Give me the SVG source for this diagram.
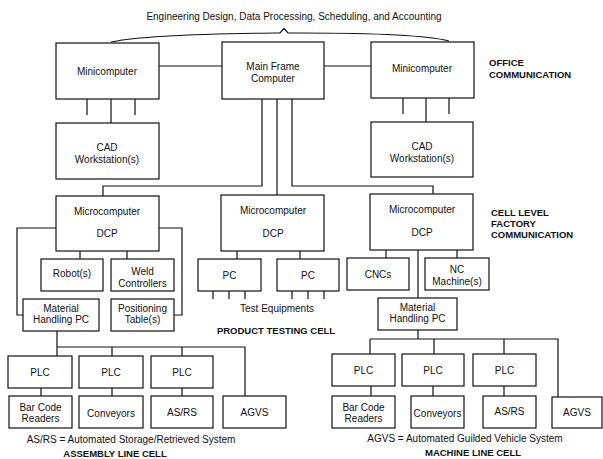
<svg xmlns="http://www.w3.org/2000/svg" width="603" height="459" viewBox="0 0 603 459">
<style>
  .box { fill: #fff; stroke: #111; stroke-width: 1.2; }
  .t { font-family: "Liberation Sans", Arial, sans-serif; font-size: 10px; fill: #111; text-anchor: middle; }
  .b { font-family: "Liberation Sans", Arial, sans-serif; font-size: 9.5px; font-weight: bold; fill: #111; }
  .bc { text-anchor: middle; }
  .ln { fill: none; stroke: #111; stroke-width: 1.2; }
</style>
<rect width="603" height="459" fill="#fff"/>

<g id="connectors">
  <!-- brace -->
  <path class="ln" d="M111,42 C135,37 180,34 275,33 L280,33 L284,28.5 L288,33 L300,33 C390,33 430,36 449,41"/>
  <!-- office links -->
  <path class="ln" d="M159,66 H222 M324,66 H371"/>
  <!-- mini to CAD left -->
  <path class="ln" d="M87,99 V115 M111,99 V123 M135,99 V115"/>
  <!-- mini to CAD right -->
  <path class="ln" d="M403,98 V114 M426,98 V122 M449,98 V114"/>
  <!-- mainframe down -->
  <path class="ln" d="M262,99 V186 H103 V196 M277,99 V195 M292,99 V186 H433 V194"/>
  <!-- left micro -->
  <path class="ln" d="M56,228 H17 V315 H23 M159,228 H182 V315 H174 M80,251 V259 M127,251 V259"/>
  <!-- left MH PC to PLCs -->
  <path class="ln" d="M57,331 V356 M57,347 H245 V396 M112,347 V356 M182,347 V356"/>
  <path class="ln" d="M41,388 V396 M112,388 V396 M182,388 V396"/>
  <!-- middle micro -->
  <path class="ln" d="M237,251 V259 M300,251 V259"/>
  <path class="ln" d="M213,291 V299 M229,291 V299 M245,291 V299 M292,291 V299 M308,291 V299 M324,291 V299"/>
  <!-- right micro -->
  <path class="ln" d="M386,250 V258 M457,250 V258 M418,250 V298"/>
  <!-- right MH PC to PLCs -->
  <path class="ln" d="M418,330 V339 M370,339 H558 V397 M370,339 V354 M434,339 V354 M504,339 V354"/>
  <path class="ln" d="M371,386 V396 M433,386 V396 M504,386 V396"/>
</g>

<text class="t" x="294" y="20">Engineering Design, Data Processing, Scheduling, and Accounting</text>

<g id="mini-left"><rect class="box" x="56" y="43" width="103" height="56"/><text class="t" x="107" y="74.5">Minicomputer</text></g>
<g id="mainframe"><rect class="box" x="222" y="42" width="102" height="57"/><text class="t" x="273" y="69.5">Main Frame</text><text class="t" x="273" y="81.5">Computer</text></g>
<g id="mini-right"><rect class="box" x="371" y="42" width="103" height="56"/><text class="t" x="422" y="72">Minicomputer</text></g>

<g id="cad-left"><rect class="box" x="56" y="123" width="103" height="56"/><text class="t" x="107" y="150.5">CAD</text><text class="t" x="107" y="162.5">Workstation(s)</text></g>
<g id="cad-right"><rect class="box" x="371" y="122" width="102" height="55"/><text class="t" x="422" y="150">CAD</text><text class="t" x="422" y="162">Workstation(s)</text></g>

<g id="office-label"><text class="b" x="489" y="65.5">OFFICE</text><text class="b" x="489" y="77.5">COMMUNICATION</text></g>
<g id="cell-label"><text class="b" x="491" y="215.5">CELL LEVEL</text><text class="b" x="491" y="226.5">FACTORY</text><text class="b" x="491" y="237.5">COMMUNICATION</text></g>

<g id="micro-left"><rect class="box" x="56" y="196" width="103" height="55"/><text class="t" x="107" y="214.5">Microcomputer</text><text class="t" x="107" y="236.5">DCP</text></g>
<g id="micro-mid"><rect class="box" x="221" y="195" width="103" height="56"/><text class="t" x="273" y="213.5">Microcomputer</text><text class="t" x="273" y="236.5">DCP</text></g>
<g id="micro-right"><rect class="box" x="370" y="194" width="103" height="56"/><text class="t" x="422" y="212.5">Microcomputer</text><text class="t" x="422" y="235.5">DCP</text></g>

<g id="robots"><rect class="box" x="41" y="259" width="62" height="32"/><text class="t" x="72" y="276.5">Robot(s)</text></g>
<g id="weld"><rect class="box" x="111" y="259" width="63" height="32"/><text class="t" x="142.5" y="274.5">Weld</text><text class="t" x="142.5" y="286.5">Controllers</text></g>
<g id="mhpc-left"><rect class="box" x="23" y="299" width="76" height="32"/><text class="t" x="61" y="311.5">Material</text><text class="t" x="61" y="322.5">Handling PC</text></g>
<g id="positioning"><rect class="box" x="111" y="299" width="63" height="32"/><text class="t" x="142.5" y="311.5">Positioning</text><text class="t" x="142.5" y="322.5">Table(s)</text></g>

<g id="pc1"><rect class="box" x="198" y="259" width="63" height="32"/><text class="t" x="229.5" y="278.5">PC</text></g>
<g id="pc2"><rect class="box" x="277" y="259" width="62" height="32"/><text class="t" x="308" y="278.5">PC</text></g>
<text class="t" x="277" y="311.5">Test Equipments</text>
<text class="b bc" x="276" y="334">PRODUCT TESTING CELL</text>

<g id="cncs"><rect class="box" x="347" y="258" width="62" height="32"/><text class="t" x="378" y="278">CNCs</text></g>
<g id="nc"><rect class="box" x="425" y="258" width="64" height="32"/><text class="t" x="457" y="272.5">NC</text><text class="t" x="457" y="284.5">Machine(s)</text></g>
<g id="mhpc-right"><rect class="box" x="378" y="298" width="79" height="32"/><text class="t" x="417.5" y="310.5">Material</text><text class="t" x="417.5" y="321.5">Handling PC</text></g>

<g id="plc-l1"><rect class="box" x="8" y="356" width="64" height="32"/><text class="t" x="40" y="375.5">PLC</text></g>
<g id="plc-l2"><rect class="box" x="79" y="356" width="64" height="32"/><text class="t" x="111" y="375.5">PLC</text></g>
<g id="plc-l3"><rect class="box" x="151" y="356" width="62" height="32"/><text class="t" x="182" y="375.5">PLC</text></g>
<g id="bar-l"><rect class="box" x="9" y="396" width="63" height="32"/><text class="t" x="40.5" y="410.5">Bar Code</text><text class="t" x="40.5" y="422">Readers</text></g>
<g id="conv-l"><rect class="box" x="79" y="396" width="64" height="32"/><text class="t" x="111" y="416.5">Conveyors</text></g>
<g id="asrs-l"><rect class="box" x="151" y="396" width="62" height="32"/><text class="t" x="182" y="415.5">AS/RS</text></g>
<g id="agvs-l"><rect class="box" x="223" y="396" width="63" height="32"/><text class="t" x="254.5" y="415.5">AGVS</text></g>
<text class="t" x="131" y="442.5">AS/RS = Automated Storage/Retrieved System</text>
<text class="b bc" x="115" y="457">ASSEMBLY LINE CELL</text>

<g id="plc-r1"><rect class="box" x="332" y="354" width="63" height="32"/><text class="t" x="363.5" y="373.5">PLC</text></g>
<g id="plc-r2"><rect class="box" x="402" y="354" width="62" height="32"/><text class="t" x="433" y="373.5">PLC</text></g>
<g id="plc-r3"><rect class="box" x="473" y="354" width="63" height="32"/><text class="t" x="504.5" y="373.5">PLC</text></g>
<g id="bar-r"><rect class="box" x="332" y="396" width="63" height="32"/><text class="t" x="363.5" y="410.5">Bar Code</text><text class="t" x="363.5" y="422">Readers</text></g>
<g id="conv-r"><rect class="box" x="411" y="396" width="53" height="32"/><text class="t" x="437.5" y="416.5">Conveyors</text></g>
<g id="asrs-r"><rect class="box" x="483" y="396" width="53" height="32"/><text class="t" x="509.5" y="414.5">AS/RS</text></g>
<g id="agvs-r"><rect class="box" x="552" y="397" width="50" height="31"/><text class="t" x="577" y="415.5">AGVS</text></g>
<text class="t" x="465" y="441.5">AGVS = Automated Guilded Vehicle System</text>
<text class="b bc" x="473" y="456">MACHINE LINE CELL</text>
</svg>
